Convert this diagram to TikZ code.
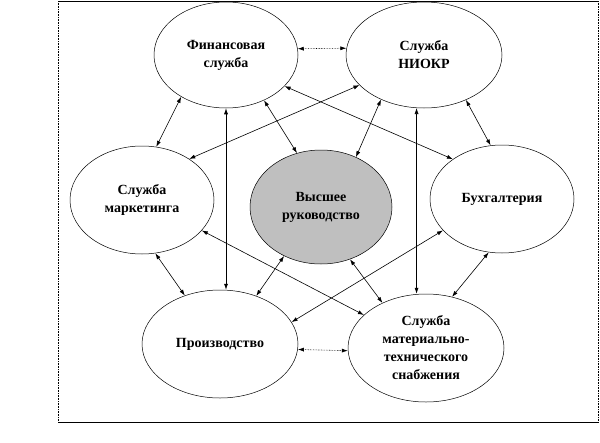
\documentclass[tikz,border=0pt]{standalone}
\usepackage{fontspec}
\setmainfont{Liberation Serif}
\usetikzlibrary{shapes.geometric,arrows.meta}
\begin{document}
\begin{tikzpicture}[x=1pt,y=-1pt,
  unit/.style={ellipse,draw,line width=0.5pt,inner sep=0pt,align=center,
    font=\fontsize{14}{18}\selectfont\bfseries},
  link/.style={line width=0.6pt,{Latex[length=6pt,width=4pt]}-{Latex[length=6pt,width=4pt]}},
  dlink/.style={link,densely dotted}]
\useasboundingbox (0,0) rectangle (600,442);
\draw[line width=0.6pt] (58,1) -- (598,1);
\draw[line width=0.6pt] (58,422) -- (598,422);
\draw[line width=0.6pt,densely dotted] (58,1) -- (58,422);
\draw[line width=0.6pt,densely dotted] (598,1) -- (598,422);

\node[unit,minimum width=144pt,minimum height=106pt] (fin) at (226,55) {Финансовая\\служба};
\node[unit,minimum width=156pt,minimum height=106pt] (niokr) at (424,55) {Служба\\НИОКР};
\node[unit,minimum width=144pt,minimum height=108pt] (mkt) at (142,200) {Служба\\маркетинга};
\node[unit,minimum width=142pt,minimum height=114pt,fill=black!25] (top) at (321,207) {Высшее\\руководство};
\node[unit,minimum width=144pt,minimum height=108pt] (buh) at (502,199) {Бухгалтерия};
\node[unit,minimum width=156pt,minimum height=108pt] (prod) at (220,344) {Производство};
\node[unit,minimum width=156pt,minimum height=108pt] (mts) at (426,348) {Служба\\материально-\\технического\\снабжения};

\draw[dlink] (fin.5) -- (niokr.175);
\draw[link] (fin.223) -- (mkt.75);
\draw[link] (fin.332) -- (buh.141);
\draw[link] (niokr.205) -- (mkt.41);
\draw[link] (fin.310) -- (top.114);
\draw[link] (niokr.226) -- (top.55);
\draw[link] (niokr.313) -- (buh.102);
\draw[link] (fin.south) -- (fin.south |- prod.north);
\draw[link] (niokr.262) -- (niokr.262 |- mts.north);
\draw[link] (mkt.284) -- (prod.126);
\draw[link] (mkt.333) -- (mts.152);
\draw[link] (top.233) -- (prod.53);
\draw[link] (top.299) -- (mts.134);
\draw[link] (buh.208) -- (prod.17);
\draw[link] (buh.256) -- (mts.63);
\draw[dlink] (prod.356) -- (mts.182);
\end{tikzpicture}
\end{document}
